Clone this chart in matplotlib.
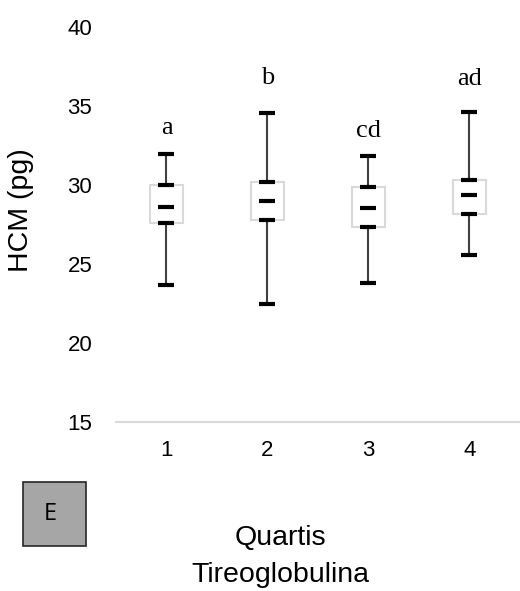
import numpy as np
import matplotlib.pyplot as plt
from matplotlib.patches import Rectangle

quartis = [1, 2, 3, 4]
lower = [23.65, 22.45, 23.76, 25.57]
q1 = [27.56, 27.75, 27.34, 28.16]
median = [28.57, 28.97, 28.51, 29.33]
q3 = [29.98, 30.17, 29.87, 30.28]
upper = [31.92, 34.52, 31.82, 34.6]
letras = ['a', 'b', 'cd', 'ad']
letras_y = [33.2, 36.35, 33.0, 36.3]

fig = plt.figure(figsize=(5.2, 5.91), dpi=100)
ax = fig.add_axes([0.223, 0.2865, 0.777, 0.6683])

x = np.array(quartis)
# box (quartil 1 a 3)
ax.bar(x, np.array(q3) - np.array(q1), bottom=q1, width=0.32,
       fill=False, edgecolor='#d9d9d9', linewidth=1.5, zorder=1)
# whiskers
ax.vlines(x, lower, q1, color='#404040', linewidth=1.5, zorder=2)
ax.vlines(x, q3, upper, color='#404040', linewidth=1.5, zorder=2)
for vals in (lower, q1, median, q3, upper):
    ax.plot(x, vals, ls='none', marker='_', color='black',
            markersize=11, markeredgewidth=3, zorder=3)

for xi, t, yi in zip(x, letras, letras_y):
    ax.text(xi, yi, t, ha='center', va='baseline', fontsize=19,
            family='Liberation Serif')

ax.set_xlim(0.5, 4.5)
ax.set_ylim(15, 40)
ax.set_yticks([15, 20, 25, 30, 35, 40])
ax.set_xticks(quartis)
ax.tick_params(length=0, labelsize=16)
ax.tick_params(axis='x', pad=13)
ax.tick_params(axis='y', pad=17)
for lab in ax.get_xticklabels() + ax.get_yticklabels():
    lab.set_family('Liberation Sans')
for s in ['top', 'right', 'left']:
    ax.spines[s].set_visible(False)
ax.spines['bottom'].set_color('#d9d9d9')
ax.spines['bottom'].set_linewidth(1.5)

fig.text(21 / 520, 1 - 210 / 591, 'HCM (pg)', rotation=90, ha='center',
         va='center', fontsize=20.5, family='Liberation Sans')
fig.text(280 / 520, 1 - 538 / 591, 'Quartis', ha='center', va='center',
         fontsize=20.5, family='Liberation Sans')
fig.text(280 / 520, 1 - 575 / 591, 'Tireoglobulina', ha='center', va='center',
         fontsize=20.5, family='Liberation Sans')

fig.patches.append(Rectangle((22.5 / 520, 1 - 546 / 591), 63 / 520, 64 / 591,
                             transform=fig.transFigure, facecolor='#a6a6a6',
                             edgecolor='#262626', linewidth=1.2))
fig.text(50.5 / 520, 1 - 514 / 591, 'E', ha='center', va='center',
         fontsize=17, family='Open Sans')

fig.savefig('out.png', dpi=100)
